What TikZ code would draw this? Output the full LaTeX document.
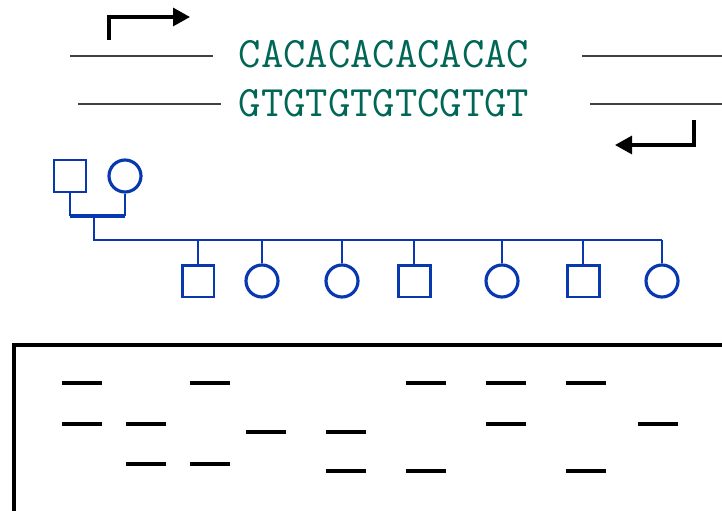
\documentclass[tikz,border=0pt]{standalone}
\usepackage{fontspec}
\usepackage{xcolor}
\usetikzlibrary{arrows.meta, positioning, shapes.geometric}
\definecolor{pedblue}{RGB}{8,56,176}
\definecolor{seqgreen}{RGB}{0,102,85}
\tikzset{
  male/.style={rectangle, draw=pedblue, line width=1.7pt, minimum width=0.64cm, minimum height=0.64cm, inner sep=0pt},
  female/.style={circle, draw=pedblue, line width=1.8pt, minimum size=0.64cm, inner sep=0pt},
  pedline/.style={draw=pedblue, line width=1.3pt},
  strand/.style={draw=black!75, line width=0.8pt},
  seqtext/.style={font=\ttfamily\fontsize{24.7}{27}\selectfont, text=seqgreen, inner sep=0pt},
  primer/.style={-{Triangle[length=0.34cm, width=0.36cm]}, line width=1.8pt},
  band/.style={line width=2.1pt},
}

\begin{document}
\begin{tikzpicture}[x=0.02cm, y=-0.02cm]
  \useasboundingbox (0,0) rectangle (722,510);

  % Primers
  \coordinate (fwdbase) at (109,40);
  \coordinate (fwdtip) at (190,17);
  \draw[primer] (fwdbase) |- (fwdtip);
  \coordinate (revbase) at (694,120);
  \coordinate (revtip) at (615,145);
  \draw[primer] (revbase) |- (revtip);

  % Repeat region on both strands
  \node[seqtext] (upper) at (384,54) {CACACACACACAC};
  \node[seqtext] (lower) at (384,103) {GTGTGTGTCGTGT};
  \draw[strand] (70,56) -- (213,56);
  \draw[strand] (582,56) -- (722,56);
  \draw[strand] (78,104) -- (221,104);
  \draw[strand] (590,104) -- (722,104);

  % Pedigree
  \node[male] (dad) at (70,176) {};
  \node[female] (mum) at (125,176) {};
  \coordinate (mate) at (94,216);
  \coordinate (sibs) at (94,240);
  \draw[pedline] (dad.south) -- (dad.south |- mate);
  \draw[pedline] (mum.south) -- (mum.south |- mate);
  \draw[pedline, line width=1.8pt] (dad.south |- mate) -- (mum.south |- mate);

  \node[male] (c1) at (198,281) {};
  \node[female] (c2) at (262,281) {};
  \node[female] (c3) at (342,281) {};
  \node[male] (c4) at (414,281) {};
  \node[female] (c5) at (502,281) {};
  \node[male] (c6) at (583,281) {};
  \node[female] (c7) at (662,281) {};

  \draw[pedline] (mate) -- (sibs) -- (sibs -| c7.north);
  \foreach \kid in {c1,c2,c3,c4,c5,c6,c7}
    \draw[pedline] (\kid.north) -- (\kid.north |- sibs);

  % Gel
  \begin{scope}
    \clip (0,0) rectangle (722,510);
    \coordinate (gelcorner) at (14,345);
    \draw[line width=1.8pt] (gelcorner |- 0,530) -- (gelcorner) -- (740,345);
  \end{scope}
  \foreach \x/\y in {82/383, 82/424, 146/424, 146/464, 210/383, 210/464,
                     266/432, 346/432, 346/471, 426/383, 426/471,
                     506/383, 506/424, 586/383, 586/471, 658/424}
    \draw[band] (\x-20,\y) -- (\x+20,\y);
\end{tikzpicture}
\end{document}
